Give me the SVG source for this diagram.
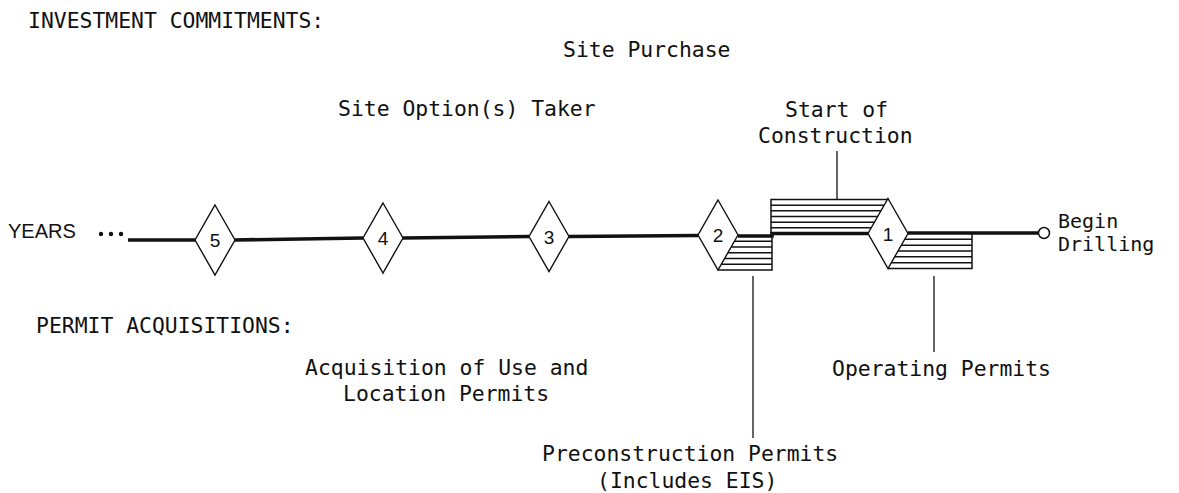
<svg xmlns="http://www.w3.org/2000/svg" width="1179" height="493" viewBox="0 0 1179 493">
  <style>
    .lbl { font-family: "DejaVu Sans Mono", "Liberation Mono", monospace; font-size: 21.4px; fill: #111; }
    .sm { font-size: 20px; }
    .sans { font-family: "Liberation Sans", Arial, sans-serif; fill: #111; }
    .num { font-family: "Liberation Sans", Arial, sans-serif; font-size: 19px; fill: #111; text-anchor: middle; }
    .dia { fill: #fff; stroke: #111; stroke-width: 1.4; stroke-linejoin: miter; }
    .axis { fill: none; stroke: #111; stroke-width: 3.6; }
    .hatch { fill: none; stroke: #111; stroke-width: 1.5; }
    .lead { fill: none; stroke: #111; stroke-width: 1.3; }
  </style>

  <rect width="1179" height="493" fill="#fff"/>

  <!-- section headings -->
  <g id="headings">
    <text class="lbl" x="28" y="28">INVESTMENT COMMITMENTS:</text>
    <text class="lbl" x="36" y="333">PERMIT ACQUISITIONS:</text>
  </g>

  <!-- investment commitment labels -->
  <g id="site-purchase"><text class="lbl" x="563" y="57">Site Purchase</text></g>
  <g id="site-option"><text class="lbl" x="338" y="116">Site Option(s) Taker</text></g>
  <g id="start-construction">
    <text class="lbl" x="785" y="117">Start of</text>
    <text class="lbl" x="758" y="143">Construction</text>
  </g>

  <!-- time axis -->
  <g id="connectors">
    <g id="years-dots" fill="#111">
      <circle cx="101" cy="234" r="2.2"/>
      <circle cx="111" cy="234" r="2.2"/>
      <circle cx="121" cy="234" r="2.2"/>
    </g>
    <polyline class="axis" points="128,240 195,240"/>
    <polyline class="axis" points="235,240 363,238"/>
    <polyline class="axis" points="403,238 529,236.5"/>
    <polyline class="axis" points="569,236.5 698,235.5"/>
    <polyline class="axis" points="738,236 772,236 772,233.5 868,233.5"/>
    <polyline class="axis" points="908,233 1038.5,233"/>

    <!-- leader lines -->
    <line class="lead" x1="837" y1="151" x2="837" y2="199.5"/>
    <line class="lead" x1="753" y1="276" x2="753" y2="438"/>
    <line class="lead" x1="934" y1="276" x2="934" y2="352"/>
  </g>

  <!-- hatched period: start of construction (above axis, before year 1) -->
  <g id="construction-period">
    <polyline class="hatch" points="771,233.5 771,199.5 888,199.5"/>
    <line class="hatch" x1="771" y1="205.2" x2="884.8" y2="205.2"/>
    <line class="hatch" x1="771" y1="210.8" x2="881.6" y2="210.8"/>
    <line class="hatch" x1="771" y1="216.5" x2="878.3" y2="216.5"/>
    <line class="hatch" x1="771" y1="222.2" x2="875.1" y2="222.2"/>
    <line class="hatch" x1="771" y1="227.8" x2="871.9" y2="227.8"/>
  </g>

  <!-- hatched period: preconstruction permits (below axis, after year 2) -->
  <g id="preconstruction-period">
    <polyline class="hatch" points="718,270 772,270 772,236"/>
    <line class="hatch" x1="734.6" y1="241.2" x2="772" y2="241.2"/>
    <line class="hatch" x1="731.3" y1="247" x2="772" y2="247"/>
    <line class="hatch" x1="728" y1="252.8" x2="772" y2="252.8"/>
    <line class="hatch" x1="724.7" y1="258.5" x2="772" y2="258.5"/>
    <line class="hatch" x1="721.4" y1="264.3" x2="772" y2="264.3"/>
  </g>

  <!-- hatched period: operating permits (below axis, after year 1) -->
  <g id="operating-period">
    <polyline class="hatch" points="888,268.5 972,268.5 972,233"/>
    <line class="hatch" x1="904.7" y1="239.3" x2="972" y2="239.3"/>
    <line class="hatch" x1="901.4" y1="245.2" x2="972" y2="245.2"/>
    <line class="hatch" x1="898" y1="251" x2="972" y2="251"/>
    <line class="hatch" x1="894.7" y1="256.8" x2="972" y2="256.8"/>
    <line class="hatch" x1="891.3" y1="262.7" x2="972" y2="262.7"/>
  </g>

  <!-- year markers -->
  <g id="years-label"><text class="sans" x="8" y="238" font-size="20">YEARS</text></g>
  <g id="year-5">
    <polygon class="dia" points="215,205 235,240 215,275 195,240"/>
    <text class="num" x="215" y="247">5</text>
  </g>
  <g id="year-4">
    <polygon class="dia" points="383,203 403,238 383,273 363,238"/>
    <text class="num" x="383" y="245">4</text>
  </g>
  <g id="year-3">
    <polygon class="dia" points="549,201.5 569,236.5 549,271.5 529,236.5"/>
    <text class="num" x="549" y="243.5">3</text>
  </g>
  <g id="year-2">
    <polygon class="dia" points="718,200 738,235 718,270 698,235"/>
    <text class="num" x="718" y="242">2</text>
  </g>
  <g id="year-1">
    <polygon class="dia" points="888,198.5 908,233.5 888,268.5 868,233.5"/>
    <text class="num" x="888" y="240.5">1</text>
  </g>

  <!-- end of timeline -->
  <g id="begin-drilling">
    <circle cx="1044" cy="233" r="5.5" fill="#fff" stroke="#111" stroke-width="1.5"/>
    <text class="lbl sm" x="1058" y="228">Begin</text>
    <text class="lbl sm" x="1058" y="251">Drilling</text>
  </g>

  <!-- permit labels -->
  <g id="use-location-permits">
    <text class="lbl" x="305" y="375">Acquisition of Use and</text>
    <text class="lbl" x="343" y="401">Location Permits</text>
  </g>
  <g id="operating-permits"><text class="lbl" x="832" y="376">Operating Permits</text></g>
  <g id="preconstruction-permits">
    <text class="lbl" x="542" y="461">Preconstruction Permits</text>
    <text class="lbl" x="597" y="488">(Includes EIS)</text>
  </g>
</svg>
